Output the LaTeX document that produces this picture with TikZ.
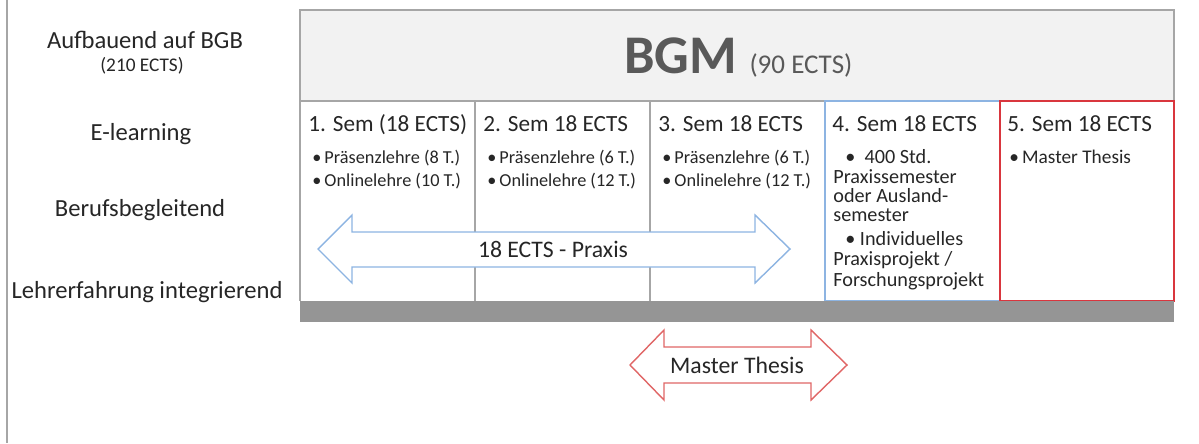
\documentclass[tikz,border=0pt]{standalone}
\usepackage{fontspec}
\setmainfont{Carlito}
\usetikzlibrary{positioning}

\definecolor{framegray}{HTML}{A6A6A6}
\definecolor{headfill}{HTML}{F2F2F2}
\definecolor{bargray}{HTML}{959595}
\definecolor{semblue}{HTML}{8DB4E2}
\definecolor{semred}{HTML}{D9363E}
\definecolor{arrowred}{HTML}{E06666}
\definecolor{txtgray}{HTML}{595959}
\definecolor{txtdark}{HTML}{262626}

\tikzset{
  semtitle/.style={anchor=base west,inner sep=0pt,text=txtdark,font=\fontsize{13.2}{15}\selectfont},
  semitem/.style={anchor=base west,inner sep=0pt,text=txtdark,font=\fontsize{10.4}{12}\selectfont},
  praxitem/.style={anchor=base west,inner sep=0pt,text=txtdark,font=\fontsize{11.5}{13}\selectfont},
  sidelabel/.style={anchor=base,inner sep=0pt,text=txtdark,font=\fontsize{14}{16}\selectfont},
  arrowtext/.style={inner sep=0pt,text=txtdark,font=\fontsize{13.5}{16}\selectfont},
}

\begin{document}
\begin{tikzpicture}[x=0.02cm,y=-0.02cm]

        \useasboundingbox (0,0) rectangle (1199,443);
        \draw[framegray,line width=1.2pt] (7,0) -- (7,443);

        % side labels
        \node[sidelabel] (bgb) at (145,48) {Aufbauend auf BGB};
        \node[sidelabel,font=\fontsize{11}{13}\selectfont] (bgbects) at (142,71) {(210 ECTS)};
        \node[sidelabel] (elearn) at (141,140) {E-learning};
        \node[sidelabel] (beruf) at (140,216) {Berufsbegleitend};
        \node[sidelabel] (lehrer) at (147,298) {Lehrerfahrung integrierend};

        % header
        \draw[framegray,fill=headfill,line width=0.8pt] (300,10) rectangle (1174,101);
        \node[anchor=base west,inner sep=0pt,text=txtgray] (bgm) at (624,73)
            {\fontsize{31}{36}\selectfont\bfseries BGM \mdseries\fontsize{15.4}{18}\selectfont(90 ECTS)};

        % semesters
        \draw[framegray,line width=0.6pt] (300,101) -- (300,301);
        \draw[framegray,line width=0.6pt] (475,101) -- (475,301);
        \draw[framegray,line width=0.6pt] (650,101) -- (650,301);
        \draw[semblue,line width=0.8pt] (825,101) rectangle (1000,301);
        \draw[semred,line width=0.8pt] (1000,101) rectangle (1174,301);
        \fill[bargray] (300,301) rectangle (1174,322);

        \node[semtitle] (s1) at (308,131) {1. Sem (18 ECTS)};
        \node[semtitle] (s2) at (483,131) {2. Sem 18 ECTS};
        \node[semtitle] (s3) at (658,131) {3. Sem 18 ECTS};
        \node[semtitle] (s4) at (832,131) {4. Sem 18 ECTS};
        \node[semtitle] (s5) at (1007,131) {5. Sem 18 ECTS};

        \node[semitem] (p1) at (312,163) {\textbullet\,Präsenzlehre (8 T.)};
        \node[semitem] (o1) at (312,186) {\textbullet\,Onlinelehre (10 T.)};
        \node[semitem] (p2) at (487,163) {\textbullet\,Präsenzlehre (6 T.)};
        \node[semitem] (o2) at (487,186) {\textbullet\,Onlinelehre (12 T.)};
        \node[semitem] (p3) at (662,163) {\textbullet\,Präsenzlehre (6 T.)};
        \node[semitem] (o3) at (662,186) {\textbullet\,Onlinelehre (12 T.)};

        \node[praxitem] (std) at (845,163) {\textbullet\ \ 400 Std.};
        \node[praxitem] (std2) at (833,183) {Praxissemester};
        \node[praxitem] (std3) at (833,202) {oder Ausland-};
        \node[praxitem] (std4) at (833,221) {semester};
        \node[praxitem] (ind) at (845,245) {\textbullet\ Individuelles};
        \node[praxitem] (ind2) at (833,265) {Praxisprojekt /};
        \node[praxitem] (ind3) at (833,286) {Forschungsprojekt};

        \node[praxitem,font=\fontsize{11}{13}\selectfont] (mt) at (1009,163) {\textbullet\,Master Thesis};

        % arrows
        \draw[semblue,fill=white,line width=0.8pt] (318,249) -- (352,215) -- (352,232) -- (755,232)
            -- (755,215) -- (790,249) -- (755,283) -- (755,267) -- (352,267) -- (352,283) -- cycle;
        \node[arrowtext] (praxis) at (553,249) {18 ECTS - Praxis};

        \draw[arrowred,fill=white,line width=0.8pt] (630,365) -- (664,330) -- (664,347) -- (811,347)
            -- (811,330) -- (847,365) -- (811,400) -- (811,383) -- (664,383) -- (664,400) -- cycle;
        \node[arrowtext] (thesis) at (737,365) {Master Thesis};

    \end{tikzpicture}
\end{document}
